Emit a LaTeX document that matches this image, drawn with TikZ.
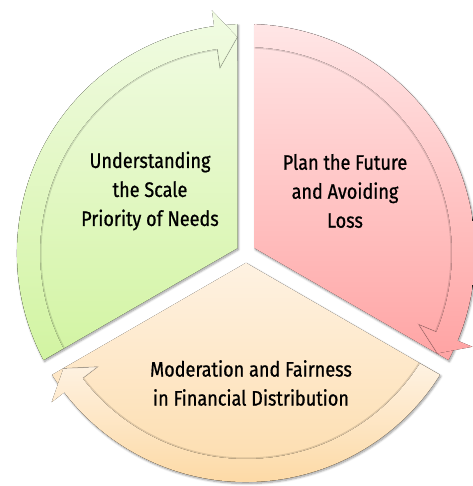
\documentclass[tikz,border=0pt]{standalone}
\usepackage{fontspec}
\setmainfont{Fira Sans}[FakeStretch=0.86, FakeBold=0.8]
\usepackage{xcolor}
\usetikzlibrary{shadows.blur}

\definecolor{greentop}{HTML}{F1FBE3}
\definecolor{greenbot}{HTML}{D2F4A2}
\definecolor{pinktop}{HTML}{FFE6E6}
\definecolor{pinkbot}{HTML}{FFA4A4}
\definecolor{orangetop}{HTML}{FEF2E2}
\definecolor{orangebot}{HTML}{FDD9A4}

\begin{document}
\begin{tikzpicture}[
        x=1pt, y=1pt,
        seg/.style={blur shadow={shadow xshift=1pt, shadow yshift=-1.5pt, shadow blur steps=6, shadow opacity=40}},
        bandline/.style={draw=black, draw opacity=0.13, line width=1pt},
        greenfill/.style={top color=greentop, bottom color=greenbot},
        pinkfill/.style={top color=pinktop, bottom color=pinkbot},
        orangefill/.style={top color=orangetop, bottom color=orangebot},
        segtext/.style={font=\fontsize{21}{29}\selectfont, align=center, text=black}
    ]
    \useasboundingbox (-246,-233) rectangle (226,253);

    % Green segment (left)
    \fill[greenfill, seg] (150:9.8pt) -- (207.87:229pt) arc[start angle=207.87, end angle=92.13, radius=229pt] -- cycle;
    \fill[greenfill] (207.87:229pt) arc[start angle=207.87, end angle=98, radius=229pt]
        -- (98:245pt) -- (92.3:216pt) -- (98:187pt) -- (98:206pt)
        arc[start angle=98, end angle=207.6, radius=206pt] -- cycle;
    \draw[bandline] (92.3:216pt) -- (98:187pt) -- (98:205pt) arc[start angle=98, end angle=207.6, radius=205pt];

    % Pink segment (right)
    \fill[pinkfill, seg] (30:9.8pt) -- (87.87:229pt) arc[start angle=87.87, end angle=-27.87, radius=229pt] -- cycle;
    \fill[pinkfill] (87.87:229pt) arc[start angle=87.87, end angle=-22.5, radius=229pt]
        -- (-22.5:245pt) -- (-27.7:216pt) -- (-22.5:187pt) -- (-22.5:206pt)
        arc[start angle=-22.5, end angle=87.6, radius=206pt] -- cycle;
    \draw[bandline] (-27.7:216pt) -- (-22.5:187pt) -- (-22.5:205pt) arc[start angle=-22.5, end angle=87.6, radius=205pt];

    % Orange segment (bottom)
    \fill[orangefill, seg] (-90:9.8pt) -- (-32.13:229pt) arc[start angle=-32.13, end angle=-147.87, radius=229pt] -- cycle;
    \fill[orangefill] (-32.13:229pt) arc[start angle=-32.13, end angle=-142.5, radius=229pt]
        -- (-142.5:245pt) -- (-147.7:216pt) -- (-142.5:187pt) -- (-142.5:206pt)
        arc[start angle=-142.5, end angle=-32.4, radius=206pt] -- cycle;
    \draw[bandline] (-147.7:216pt) -- (-142.5:187pt) -- (-142.5:205pt) arc[start angle=-142.5, end angle=-32.4, radius=205pt];

    % Texts
    \node[segtext] (needs) at (-96,62) {Understanding\\the Scale\\Priority of Needs};
    \node[segtext] (future) at (99,62) {Plan the Future\\and Avoiding\\Loss};
    \node[segtext] (fairness) at (5,-130) {Moderation and Fairness\\in Financial Distribution};

\end{tikzpicture}
\end{document}
